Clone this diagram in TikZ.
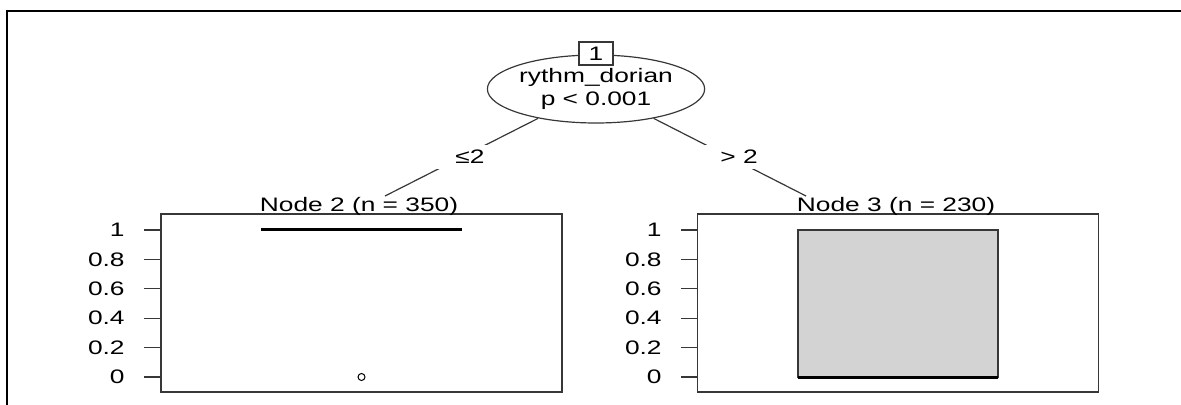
\documentclass[tikz,border=0pt]{standalone}
\usepackage{fontspec}
\setmainfont{Liberation Sans}[FakeStretch=1.35]
\usetikzlibrary{shapes.geometric, positioning, calc}

\definecolor{boxgray}{RGB}{211,211,211}
\definecolor{linegray}{RGB}{55,55,55}

\begin{document}
\begin{tikzpicture}[x=0.5pt, y=-0.5pt, font=\fontsize{9.75}{11}\selectfont,
    panel/.style={draw=linegray, line width=0.9pt, minimum width=200.5pt, minimum height=89pt, inner sep=0pt},
    tick/.style={draw=linegray, line width=0.6pt},
    edgelabel/.style={fill=white, inner sep=0pt, minimum width=34pt, minimum height=12pt}]
      \useasboundingbox (0,0) rectangle (1181,405);

      % Outer frame (top and left only)
      \draw[line width=1pt] (7,405) -- (7,11) -- (1181,11);

      % Inner split node
      \node[ellipse, draw=linegray, line width=0.6pt, minimum width=103pt, minimum height=34pt,
            inner sep=0pt, align=center] (split) at (596,89) {rythm\_dorian\\[0.5pt]p < 0.001};
      \node[draw=linegray, line width=0.6pt, fill=white, minimum width=17pt, minimum height=11.5pt,
            inner sep=0pt] (id1) at (596,53.5) {1};

      % Terminal panels
      \node[panel] (box2) at (361.5,303) {};
      \node[panel] (box3) at (898,303) {};
      \node[anchor=base, inner sep=0pt] (title2) at (359,212) {Node 2 (n = 350)};
      \node[anchor=base, inner sep=0pt] (title3) at (896,212) {Node 3 (n = 230)};

      % Edges with their split labels
      \coordinate (top2) at (385,196);
      \coordinate (top3) at (806,196);
      \draw[linegray, line width=0.6pt] (split) -- (top2);
      \draw[linegray, line width=0.6pt] (split) -- (top3);
      \node[edgelabel] (lab2) at (470,157) {≤2};
      \node[edgelabel] (lab3) at (739,157) {> 2};

      % y axes of both panels
      \foreach \v/\lab [count=\i] in {0/0, 0.2/0.2, 0.4/0.4, 0.6/0.6, 0.8/0.8, 1/1} {
        \draw[tick] (144,{377-147*\v}) -- (box2.west |- 0,{377-147*\v});
        \node[anchor=east, inner sep=0pt] (ya\i) at (125,{377-147*\v}) {\lab};
        \draw[tick] (681,{377-147*\v}) -- (box3.west |- 0,{377-147*\v});
        \node[anchor=east, inner sep=0pt] (yb\i) at (662,{377-147*\v}) {\lab};
      }

      % Node 2: all at 1, one outlier at 0
      \draw[black, line width=1.5pt] (261,230) -- (462,230);
      \draw[black, line width=0.5pt] (361.5,377) circle (3.5);

      % Node 3: box from 0 to 1, median at 0
      \draw[linegray, line width=0.6pt, fill=boxgray] (798,230) rectangle (998,377);
      \draw[black, line width=1.5pt] (798,377) -- (998,377);
\end{tikzpicture}
\end{document}
